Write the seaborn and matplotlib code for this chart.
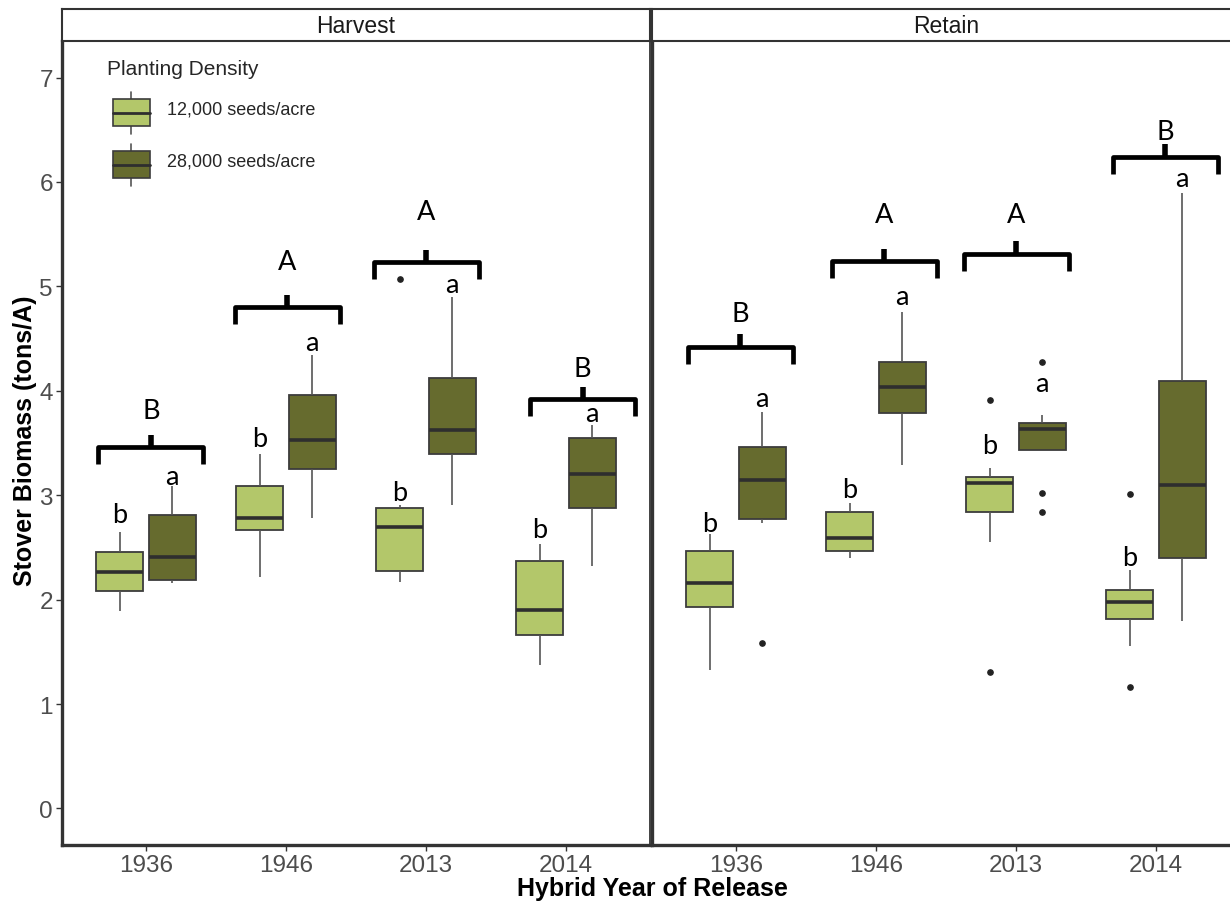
import numpy as np
import pandas as pd
import seaborn as sns
import matplotlib.pyplot as plt
import matplotlib.patches as mpatches
import matplotlib.lines as mlines
from matplotlib.legend_handler import HandlerBase

years = ['1936', '1946', '2013', '2014']
densities = ['12,000 seeds/acre', '28,000 seeds/acre']
colors = ['#B3C76A', '#666B2E']

# box summaries per year: whisker low, q1, median, q3, whisker high
harvest_12k = [[1.89, 2.08, 2.26, 2.46, 2.65],
               [2.22, 2.67, 2.78, 3.09, 3.39],
               [2.17, 2.27, 2.70, 2.88, 2.91],
               [1.37, 1.66, 1.90, 2.37, 2.53]]
harvest_28k = [[2.16, 2.19, 2.41, 2.81, 3.09],
               [2.78, 3.25, 3.53, 3.96, 4.34],
               [2.91, 3.39, 3.62, 4.12, 4.90],
               [2.32, 2.88, 3.20, 3.55, 3.67]]
retain_12k = [[1.33, 1.93, 2.16, 2.47, 2.63],
              [2.40, 2.47, 2.59, 2.84, 2.93],
              [2.55, 2.84, 3.12, 3.17, 3.26],
              [1.56, 1.81, 1.98, 2.09, 2.28]]
retain_28k = [[2.73, 2.77, 3.15, 3.46, 3.80],
              [3.29, 3.79, 4.04, 4.28, 4.75],
              [3.43, 3.43, 3.63, 3.69, 3.77],
              [1.80, 2.40, 3.10, 4.09, 5.89]]
harvest_12k_out = [[], [], [5.07], []]
harvest_28k_out = [[], [], [], []]
retain_12k_out = [[], [], [3.91, 1.31], [3.01, 1.16]]
retain_28k_out = [[1.58], [], [4.28, 3.02, 2.84], []]

# significance letters
harvest_group_letter = ['B', 'A', 'A', 'B']
harvest_brace_y = [3.46, 4.80, 5.23, 3.92]
harvest_group_letter_y = [3.83, 5.26, 5.74, 4.24]
harvest_brace_shift = [0.035, 0.01, 0.0, 0.12]
harvest_letter_y_12k = [2.84, 3.57, 3.05, 2.69]
harvest_letter_y_28k = [3.17, 4.46, 5.01, 3.78]

retain_group_letter = ['B', 'A', 'A', 'B']
retain_brace_y = [4.42, 5.24, 5.31, 6.24]
retain_group_letter_y = [4.76, 5.71, 5.71, 6.51]
retain_brace_shift = [0.03, 0.06, 0.0, 0.065]
retain_letter_y_12k = [2.75, 3.08, 3.50, 2.43]
retain_letter_y_28k = [3.92, 4.90, 4.06, 6.03]


def expand(stats, outs):
    # sample whose boxplot stats reproduce the summary exactly (n = 4k+1)
    lo, q1, med, q3, hi = stats
    low = sorted(v for v in outs if v < lo)
    high = sorted(v for v in outs if v > hi)
    k = max(len(low), len(high)) + 1
    vals = low + [lo] + [q1] * (k - len(low) - 1)
    vals += [q1] + [q1] * (k - 1)
    vals += [med] + [med] * (k - 1)
    vals += [q3] + [q3] * (k - len(high) - 1) + [hi] + high
    return vals


def build(s12, o12, s28, o28):
    rows = []
    for i, yr in enumerate(years):
        for d, s, o in [(densities[0], s12, o12), (densities[1], s28, o28)]:
            for v in expand(s[i], o[i]):
                rows.append({'year': yr, 'density': d, 'biomass': v})
    return pd.DataFrame(rows)


df_h = build(harvest_12k, harvest_12k_out, harvest_28k, harvest_28k_out)
df_r = build(retain_12k, retain_12k_out, retain_28k, retain_28k_out)

sns.set_theme(style='white')
plt.rcParams['font.family'] = ['Liberation Sans', 'DejaVu Sans']

W, H = 1230, 904
fig = plt.figure(figsize=(12.3, 9.04), dpi=100)
ax1 = fig.add_axes([62 / W, 58 / H, 588 / W, 804 / H])
ax2 = fig.add_axes([652 / W, 58 / H, 588 / W, 804 / H])


def brace(ax, xc, y, half=0.375, drop=0.16, tip=0.12):
    ax.plot([xc - half, xc - half, xc + half, xc + half], [y - drop, y, y, y - drop],
            color='black', lw=3.4, solid_joinstyle='round', solid_capstyle='butt')
    ax.plot([xc, xc], [y, y + tip], color='black', lw=4, solid_capstyle='butt')


def letter(ax, x, yc, s):
    off = 0.066 if s == 'a' else 0.094
    ax.text(x, yc - off, s, ha='center', va='baseline', fontsize=19.5,
            family=['Lato', 'DejaVu Sans'], color='black')


panels = [
    (ax1, df_h, 'Harvest', harvest_group_letter, harvest_brace_y, harvest_group_letter_y,
     harvest_brace_shift, harvest_letter_y_12k, harvest_letter_y_28k),
    (ax2, df_r, 'Retain', retain_group_letter, retain_brace_y, retain_group_letter_y,
     retain_brace_shift, retain_letter_y_12k, retain_letter_y_28k),
]

for ax, df, name, gl, by, gly, bsh, ly12, ly28 in panels:
    sns.boxplot(data=df, x='year', y='biomass', hue='density', order=years,
                hue_order=densities, palette=colors, saturation=1, width=0.75, gap=0.1,
                ax=ax, legend=False, linecolor='#3c3c3c', linewidth=1.3, showcaps=False,
                medianprops={'linewidth': 2.6, 'color': '#2e2e2e'},
                whiskerprops={'linewidth': 1.2, 'color': '#555555'},
                flierprops={'marker': 'o', 'markersize': 3.8, 'markerfacecolor': '#222222',
                            'markeredgecolor': '#222222'})
    ax.set_xlim(-0.6, 3.6)
    ax.set_ylim(-0.35, 7.35)
    ax.set_yticks(range(8))
    ax.set_xlabel('')
    ax.set_ylabel('')
    ax.tick_params(axis='both', length=4, width=1, color='#333333', labelsize=17.5,
                   labelcolor='#4d4d4d', pad=2.5, bottom=True, left=True)
    for sp in ax.spines.values():
        sp.set_visible(True)
        sp.set_color('#333333')
        sp.set_linewidth(1.3)
    ax.spines['bottom'].set_linewidth(2.4)
    ax.spines['left'].set_linewidth(2.4)

    for i in range(len(years)):
        brace(ax, i + bsh[i], by[i])
        letter(ax, i + bsh[i], gly[i], gl[i])
        letter(ax, i - 0.1875, ly12[i], 'b')
        letter(ax, i + 0.1875, ly28[i], 'a')

    # facet strip
    pos = ax.get_position()
    sax = fig.add_axes([pos.x0, (H - 42) / H, pos.width, 32 / H])
    sax.set_xticks([])
    sax.set_yticks([])
    for sp in sax.spines.values():
        sp.set_color('#333333')
        sp.set_linewidth(1.5)
    sax.text(0.5, 0.47, name, ha='center', va='center', fontsize=16.5,
             color='#1a1a1a', transform=sax.transAxes)

ax2.tick_params(axis='y', left=False, labelleft=False)


class BoxKey(HandlerBase):
    def create_artists(self, legend, orig_handle, xdescent, ydescent, width, height,
                       fontsize, trans):
        x0, y0 = -xdescent + 4, -ydescent - 3
        stub = height * 0.18
        xm = x0 + width / 2
        w1 = mlines.Line2D([xm, xm], [y0, y0 + stub], color='#555555', lw=1.2, transform=trans)
        w2 = mlines.Line2D([xm, xm], [y0 + height - stub, y0 + height], color='#555555',
                           lw=1.2, transform=trans)
        rect = mpatches.Rectangle((x0, y0 + stub), width, height - 2 * stub,
                                  facecolor=orig_handle.get_facecolor(), edgecolor='#3c3c3c',
                                  lw=1.2, transform=trans)
        med = mlines.Line2D([x0, x0 + width], [y0 + height / 2] * 2, color='#2e2e2e',
                            lw=2, transform=trans)
        return [w1, w2, rect, med]


handles = [mpatches.Patch(facecolor=c) for c in colors]
ax1.legend(handles, densities, handler_map={mpatches.Patch: BoxKey()},
           title='Planting Density', loc='upper left', bbox_to_anchor=(0.0765, 0.978),
           frameon=False, fontsize=13, title_fontsize=15, handlelength=2.1,
           handleheight=3.2, handletextpad=1.2, labelspacing=0.55, borderpad=0,
           borderaxespad=0, alignment='left')

fig.text(652 / W, 1 - 889 / H, 'Hybrid Year of Release', ha='center', va='center',
         fontsize=18, fontweight='bold', color='black')
fig.text(25 / W, 1 - 441 / H, 'Stover Biomass (tons/A)', ha='center', va='center',
         rotation=90, fontsize=18, fontweight='bold', color='black')

fig.savefig('out.png', dpi=100)
